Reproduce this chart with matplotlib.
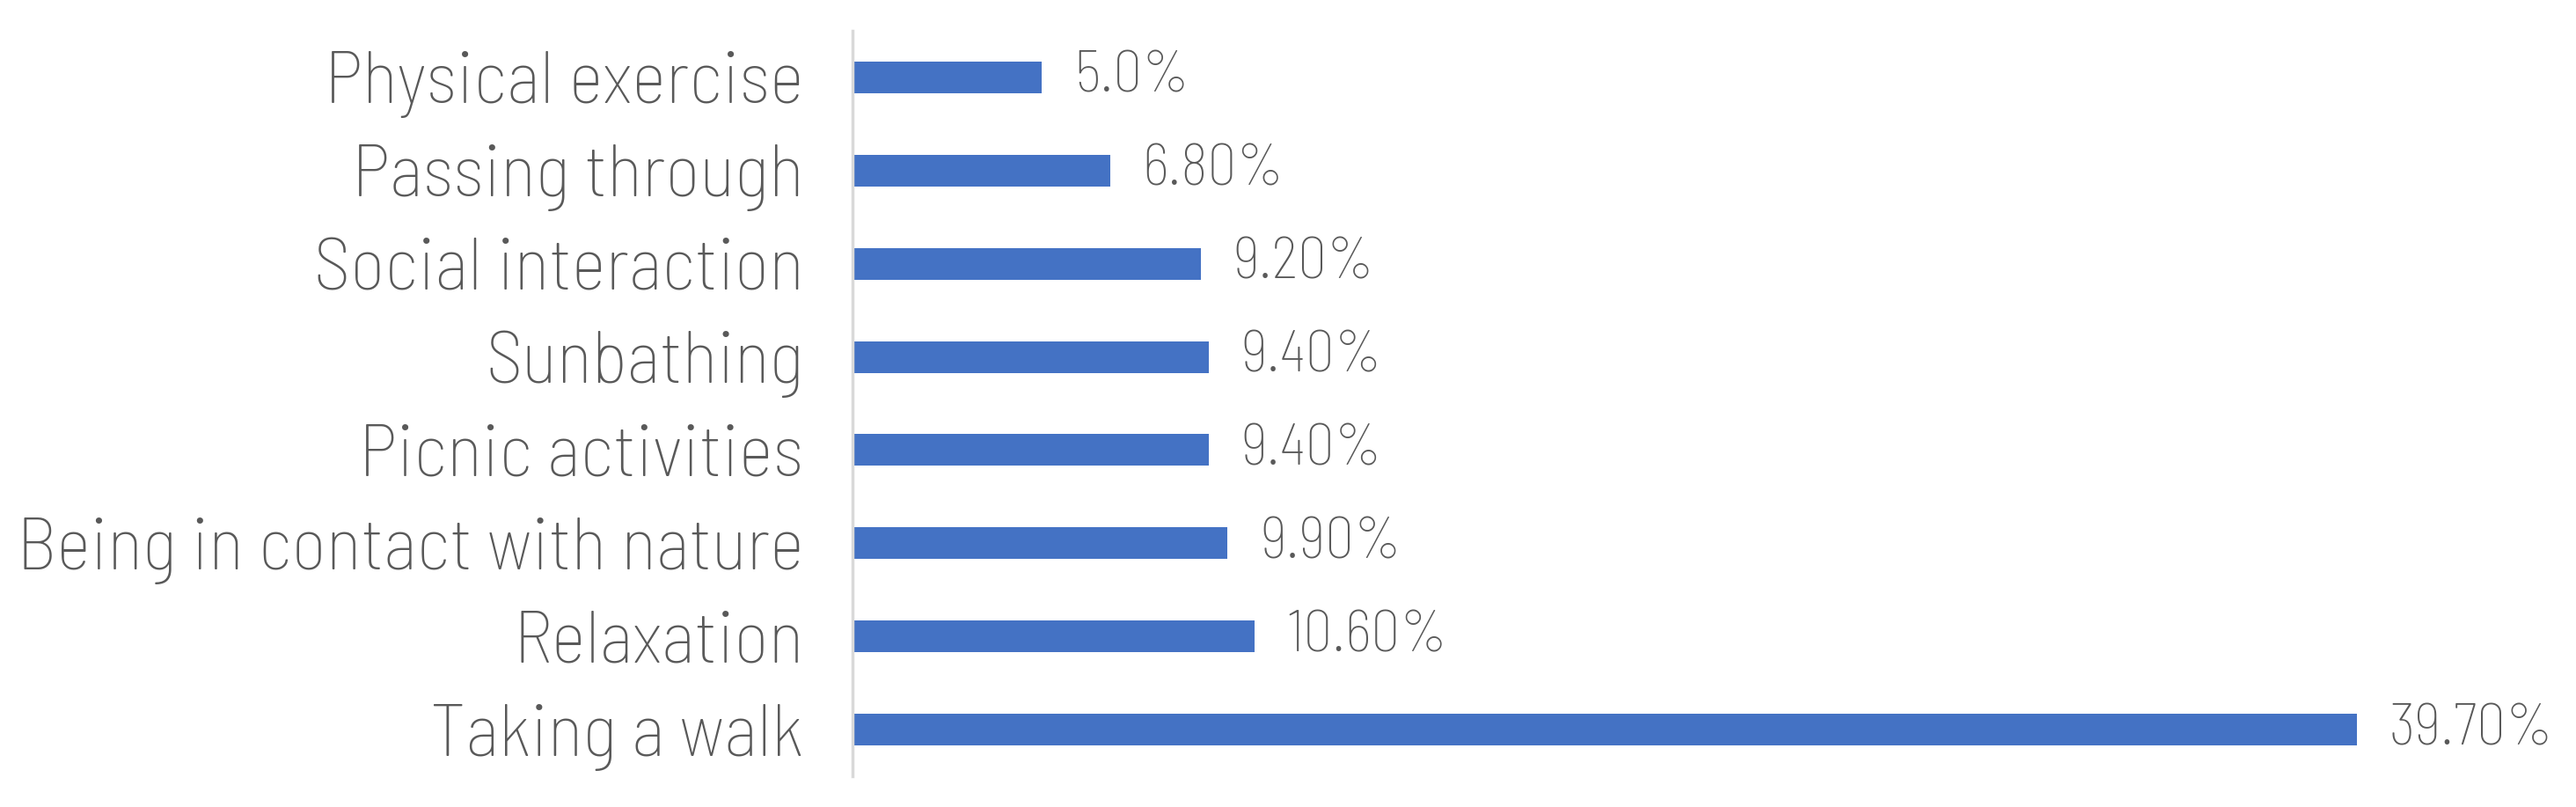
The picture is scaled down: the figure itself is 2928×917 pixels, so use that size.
import matplotlib
matplotlib.use("Agg")
import matplotlib.pyplot as plt
from matplotlib import font_manager

categories = ["Physical exercise", "Passing through", "Social interaction", "Sunbathing",
              "Picnic activities", "Being in contact with nature", "Relaxation", "Taking a walk"]
values = [5.0, 6.8, 9.2, 9.4, 9.4, 9.9, 10.6, 39.7]
value_labels = ["5.0%", "6.80%", "9.20%", "9.40%", "9.40%", "9.90%", "10.60%", "39.70%"]

names = {f.name for f in font_manager.fontManager.ttflist}
fam = "DejaVu Sans"
for cand in ["Barlow Semi Condensed", "Archivo Narrow", "Asap Condensed", "Roboto Condensed"]:
    if cand in names:
        fam = cand
        break

fig = plt.figure(figsize=(29.28, 9.17), dpi=100)
ax = fig.add_axes([969 / 2928, 35 / 917, (2907 - 969) / 2928, (882 - 35) / 917])

ypos = list(range(len(categories)))
ax.barh(ypos, values, height=0.34, color="#4472C4")
ax.set_xlim(0, 45)
ax.set_ylim(len(categories) - 0.5, -0.5)

vtexts = []
for y, v, lab in zip(ypos, values, value_labels):
    vtexts.append(ax.text(v + 0.85, y, lab, va="center", ha="left", fontsize=30,
                          color="#595959", family=fam, weight="light"))

ax.set_yticks(ypos)
ax.set_yticklabels(categories, fontsize=44, color="#595959", family=fam, weight="light")
ax.tick_params(axis="y", length=0, pad=40)
ax.set_xticks([])
for s in ["top", "right", "bottom"]:
    ax.spines[s].set_visible(False)
ax.spines["left"].set_color("#D9D9D9")
ax.spines["left"].set_linewidth(2.5)

# fit font sizes to the reference text widths
fig.canvas.draw()
r = fig.canvas.get_renderer()
ticklabs = ax.get_yticklabels()
w = ticklabs[5].get_window_extent(r).width
fs = 44 * 896 / w
for t in ticklabs:
    t.set_fontsize(fs)
w2 = vtexts[-1].get_window_extent(r).width
fs2 = 30 * 187 / w2
for t in vtexts:
    t.set_fontsize(fs2)

fig.savefig("out.png", dpi=100)
